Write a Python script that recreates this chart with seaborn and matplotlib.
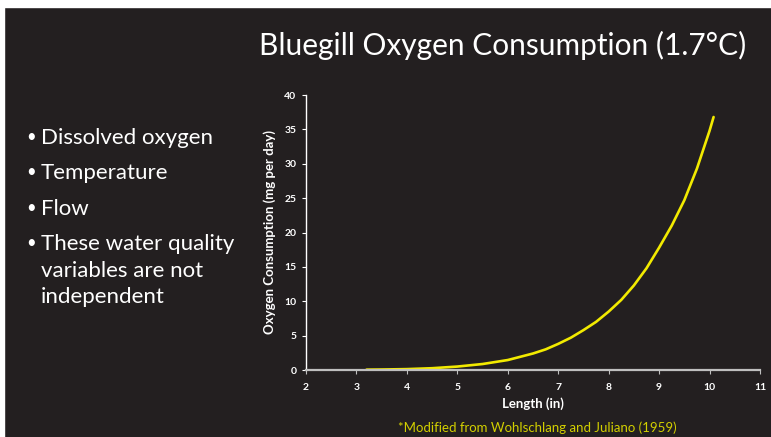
import matplotlib
matplotlib.use("Agg")
import matplotlib.pyplot as plt
import seaborn as sns
import pandas as pd
from matplotlib.patches import Rectangle

# data
length_in = [3.2, 3.5, 4.0, 4.5, 5.0, 5.5, 6.0, 6.5, 6.75, 7.0, 7.25, 7.5, 7.75, 8.0,
             8.25, 8.5, 8.75, 9.0, 9.25, 9.5, 9.75, 10.0, 10.08]
oxygen_mg = [0.05, 0.07, 0.13, 0.26, 0.5, 0.87, 1.45, 2.4, 3.0, 3.8, 4.7, 5.8, 7.0, 8.5,
             10.2, 12.3, 14.8, 17.8, 21.0, 24.7, 29.3, 34.8, 36.8]
x_ticks = [2, 3, 4, 5, 6, 7, 8, 9, 10, 11]
y_ticks = [0, 5, 10, 15, 20, 25, 30, 35, 40]
bullets = ["Dissolved oxygen", "Temperature", "Flow", "These water quality\nvariables are not\nindependent"]

bg = "#231f20"
sns.set_style("dark")
plt.rcParams['font.family'] = ['Lato', 'DejaVu Sans']

df = pd.DataFrame({"length": length_in, "oxygen": oxygen_mg})

fig = plt.figure(figsize=(7.71, 4.37), dpi=100)
fig.patch.set_facecolor(bg)
# white slide border on top and left
fig.patches.append(Rectangle((0, 1 - 7/437), 1, 7/437, transform=fig.transFigure, color="white", zorder=0))
fig.patches.append(Rectangle((0, 0), 4/771, 1, transform=fig.transFigure, color="white", zorder=0))

ax = fig.add_axes([306/771, 67/437, 454/771, 275/437])
ax.set_facecolor(bg)
sns.lineplot(data=df, x="length", y="oxygen", ax=ax, color="#f2ea00", linewidth=1.9)

ax.set_xlim(2, 11)
ax.set_ylim(0, 40)
ax.set_xticks(x_ticks)
ax.set_yticks(y_ticks)
ax.grid(False)
for s in ["top", "right"]:
    ax.spines[s].set_visible(False)
ax.spines["left"].set_color("white")
ax.spines["left"].set_linewidth(1.0)
ax.spines["bottom"].set_color("#bfbfbf")
ax.spines["bottom"].set_linewidth(1.6)
ax.tick_params(axis="y", colors="white", length=3, width=0.8, direction="out", left=True, labelsize=7.5, pad=4)
ax.tick_params(axis="x", colors="#bfbfbf", length=3, width=0.8, direction="out", bottom=True, labelsize=7.5, pad=6)
for lab in ax.get_xticklabels() + ax.get_yticklabels():
    lab.set_color("white")
    lab.set_fontweight("bold")
ax.set_xlabel("Length (in)", color="white", fontweight="bold", fontsize=9.5, labelpad=4)
ax.set_ylabel("Oxygen Consumption (mg per day)", color="white", fontweight="bold", fontsize=9.5, labelpad=6)

fig.text(746/771, 1 - 45/437, "Bluegill Oxygen Consumption (1.7°C)", color="white",
         fontsize=21.5, ha="right", va="center")

y_pos = [140, 175, 211, 246]
for txt, yp in zip(bullets, y_pos):
    fig.text(26/771, 1 - (yp - 3)/437, "•", color="white", fontsize=12, ha="left", va="center")
    fig.text(41/771, 1 - (yp - 12)/437, txt, color="white", fontsize=16, ha="left", va="top",
             linespacing=1.42)

fig.text(537/771, 1 - 428/437, "*Modified from Wohlschlang and Juliano (1959)", color="#d2cf00",
         fontsize=9.5, ha="center", va="center")

fig.savefig("out.png", dpi=100, facecolor=fig.get_facecolor())
